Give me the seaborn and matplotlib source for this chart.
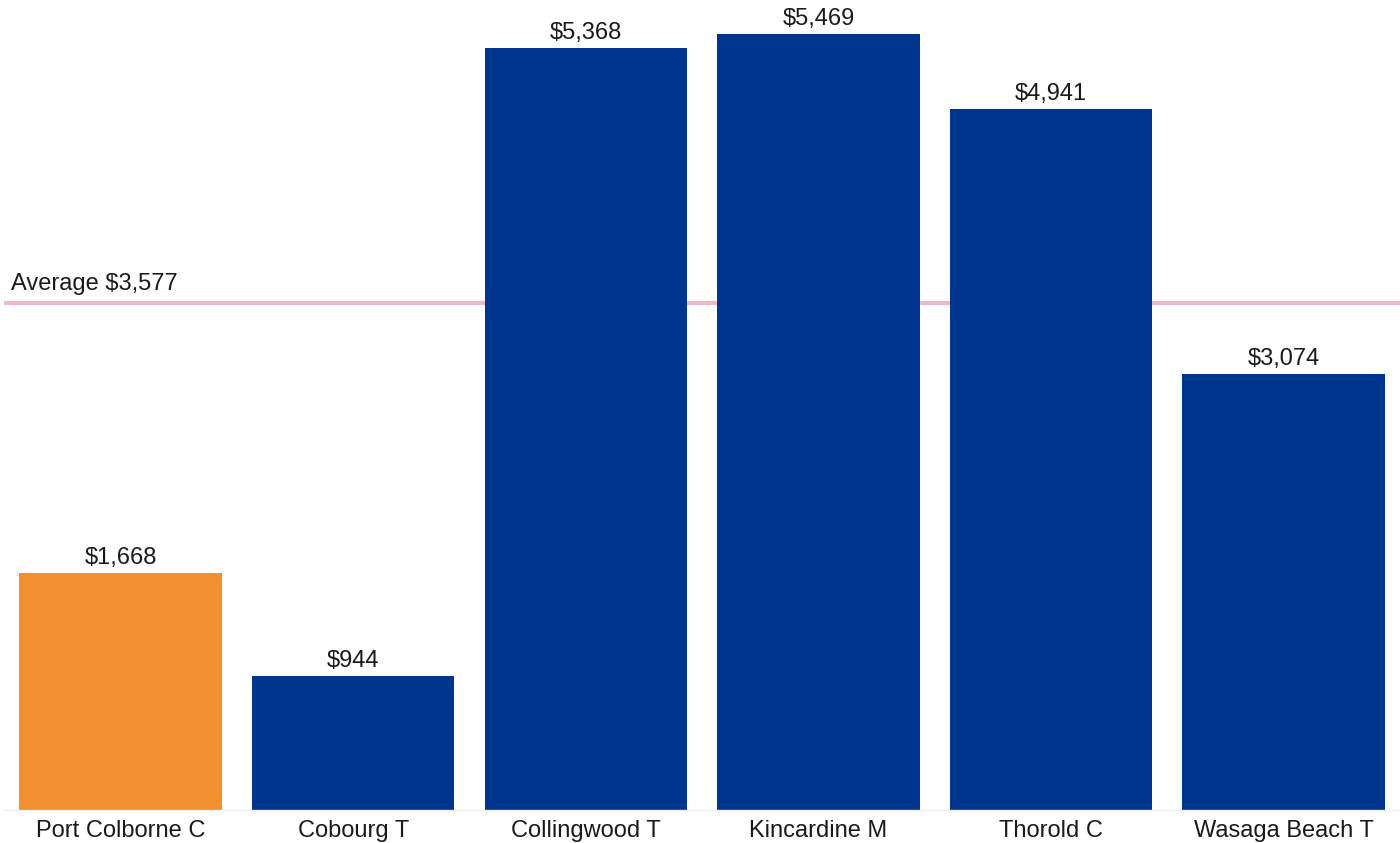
import matplotlib
matplotlib.use("Agg")
import matplotlib.pyplot as plt
import seaborn as sns
import pandas as pd
import numpy as np

municipalities = ["Port Colborne C", "Cobourg T", "Collingwood T",
                  "Kincardine M", "Thorold C", "Wasaga Beach T"]
values = [1668, 944, 5368, 5469, 4941, 3074]
highlight = "Port Colborne C"
average = 3577

ORANGE = "#F28F2F"
BLUE = "#00358E"
PINK = "#EBB9C8"

sns.set_theme(style="white")
plt.rcParams["font.family"] = ["Liberation Sans", "DejaVu Sans"]

df = pd.DataFrame({"municipality": municipalities, "value": values})
palette = {m: (ORANGE if m == highlight else BLUE) for m in municipalities}

fig = plt.figure(figsize=(14, 8.43), dpi=100)
ax = fig.add_axes([0.003, 0.039, 0.997, 0.961])

sns.barplot(data=df, x="municipality", y="value", hue="municipality",
            palette=palette, width=0.87, saturation=1, legend=False,
            linewidth=0, ax=ax)

for container in ax.containers:
    ax.bar_label(container, labels=[f"${v:,.0f}" for v in container.datavalues],
                 padding=3, fontsize=17, color="#1a1a1a")

ax.axhline(average, color=PINK, linewidth=3, zorder=0.5)
ax.text(0.005, average + 55, f"Average ${average:,}", transform=ax.get_yaxis_transform(),
        fontsize=17, color="#1a1a1a", ha="left", va="bottom")

ax.set_xlim(-0.5, len(municipalities) - 0.5)
ax.set_ylim(0, 5709)
ax.set_xlabel("")
ax.set_ylabel("")
ax.set_yticks([])
ax.tick_params(axis="x", labelsize=17, colors="#1a1a1a", length=0, pad=7)

# faint category separators along the baseline
ax.set_xticks(np.arange(len(municipalities) + 1) - 0.5, minor=True)
ax.tick_params(axis="x", which="minor", length=4, width=1, color="#eeeeee")

for side in ["top", "left", "right"]:
    ax.spines[side].set_visible(False)
ax.spines["bottom"].set_color("#eeeeee")
ax.spines["bottom"].set_linewidth(1)

fig.savefig("out.png", dpi=100, facecolor="white")
